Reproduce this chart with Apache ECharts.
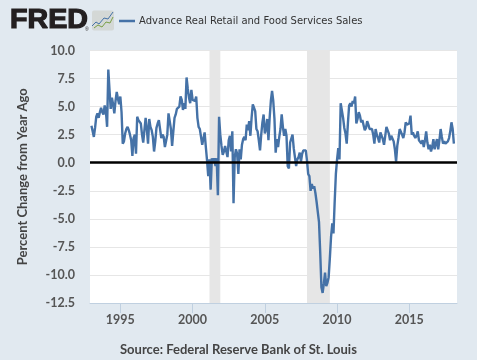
<!DOCTYPE html>
<html>
<head>
<meta charset="utf-8">
<title>FRED</title>
<style>
html, body { margin: 0; padding: 0; background: #e1e9f0; }
#main { width: 477px; height: 360px; }
</style>
<script src="https://cdn.jsdelivr.net/npm/echarts@6/dist/echarts.min.js"></script>
</head>
<body>
<div id="main"></div>
<script>
var seriesName = 'Advance Real Retail and Food Services Sales';
var yAxisName = 'Percent Change from Year Ago';
var sourceText = 'Source: Federal Reserve Bank of St. Louis';
var xTickYears = [1995, 2000, 2005, 2010, 2015];
var recessions = [[2001.17, 2001.92], [2007.92, 2009.5]];

// monthly values, about a year per row, first one is Jan 1993
var v1993 = [3.3, 2.8, 2.3, 3.1, 4.1, 4.4, 4.0, 4.5, 4.9, 4.5, 4.3];
var v1994 = [5.1, 4.6, 3.2, 8.3, 6.5, 4.8, 5.8, 5.2, 4.4, 5.5, 6.3, 5.7];
var v1995 = [5.2, 5.9, 4.5, 1.7, 1.9, 2.6, 3.0, 3.2, 2.9, 2.5, 2.0, 0.6];
var v1996 = [2.2, 2.5, 0.8, 4.1, 3.8, 3.7, 3.5, 2.5, 1.8, 2.9, 4.0, 3.0];
var v1997 = [1.7, 3.9, 3.2, 2.9, 2.3, 1.0, 1.9, 3.1, 3.5, 3.8, 3.0, 2.2];
var v1998 = [2.5, 2.3, 1.4, 1.5, 2.5, 4.4, 4.5, 3.0, 1.5, 2.8, 4.0, 4.3];
var v1999 = [4.8, 4.9, 5.0, 5.9, 5.6, 4.7, 5.3, 4.8, 7.6, 6.6, 5.8, 5.3];
var v2000 = [6.5, 5.6, 5.7, 5.5, 5.9, 4.0, 3.2, 3.0, 2.3, 1.6, 1.7, 2.7];
var v2001 = [1.4, 0.2, -1.2, 0.3, -2.4, 0.4, 0.0, 0.4, -0.3, 0.4, -2.9, 4.1];
var v2002 = [2.5, 1.5, 0.7, 1.0, 1.5, 1.0, 0.5, 2.0, 2.4, 1.0, 2.8, -3.6];
var v2003 = [0.5, 1.2, 0.8, -1.0, 1.2, 0.3, 1.6, 2.1, 2.3, 2.0, 3.4, 2.9];
var v2004 = [3.7, 2.4, 4.0, 5.2, 4.9, 4.6, 3.0, 2.8, 2.0, 1.1, 2.5, 3.6];
var v2005 = [4.3, 2.6, 3.0, 3.9, 2.0, 4.0, 5.5, 6.4, 5.5, 3.9, 0.9, 2.1];
var v2006 = [1.4, 2.3, 3.0, 4.3, 3.2, 2.4, 3.0, 2.4, -0.3, -0.5, 1.8, 1.9];
var v2007 = [2.5, 1.3, 0.5, -0.3, 0.3, 0.5, 0.9, 0.1, 0.8, 1.1, 1.2, 1.1];
var v2008 = [0.2, -1.0, -1.2, -2.5, -1.9, -2.3, -2.1, -2.7, -3.5, -4.4, -5.3, -8.0];
var v2009 = [-11.1, -11.6, -10.8, -9.8, -11.0, -10.7, -10.2, -8.5, -6.6, -5.4, -6.3, -3.5];
var v2010 = [-1.0, 0.3, 1.3, 0.3, 5.3, 5.4, 4.0, 3.1, 2.6, 1.7, 3.5, 5.1];
var v2011 = [5.3, 5.0, 5.5, 5.3, 5.9, 3.5, 3.9, 4.5, 4.2, 3.6, 3.8, 3.7];
var v2012 = [2.9, 3.1, 3.7, 3.4, 3.0, 2.9, 3.0, 2.5, 1.7, 3.0, 2.5, 2.2];
var v2013 = [1.8, 2.7, 2.6, 2.1, 1.6, 2.4, 3.2, 3.3, 2.6, 2.0, 2.4, 2.5];
var v2014 = [1.9, 1.2, 0.1, 1.5, 2.2, 3.0, 2.9, 2.5, 2.2, 2.7, 3.6, 3.4];
var v2015 = [3.3, 3.5, 4.2, 2.5, 2.7, 2.4, 2.2, 2.4, 2.8, 2.0, 2.1, 1.7];
var v2016 = [2.0, 1.4, 2.0, 2.8, 1.8, 1.2, 1.6, 1.0, 1.4, 2.1, 1.2, 1.7];
var v2017 = [2.1, 1.2, 2.0, 3.0, 2.3, 1.7, 1.9, 1.7, 1.8, 1.9, 2.2, 2.8];
var v2018 = [3.6, 3.0, 1.7];

var allValues = [].concat(v1993, v1994, v1995, v1996, v1997, v1998, v1999, v2000, v2001, v2002, v2003, v2004, v2005,
	v2006, v2007, v2008, v2009, v2010, v2011, v2012, v2013, v2014, v2015, v2016, v2017, v2018);

var points = [];
for (var i = 0; i < allValues.length; i++) {
	points.push([1993 + i / 12, allValues[i]]);
}

var myChart = echarts.init(document.getElementById('main'), null, { renderer: 'canvas' });

var option = {
	animation: false,
	backgroundColor: '#e1e9f0',
	grid: { left: 90, right: 20, top: 50.5, bottom: 57, backgroundColor: '#fff', show: true, borderWidth: 0 },
	legend: {
		left: 114,
		top: 11,
		icon: 'rect',
		itemWidth: 16,
		itemHeight: 2.5,
		itemGap: 0,
		data: [seriesName],
		textStyle: { color: '#333', fontFamily: 'DejaVu Sans', fontSize: 10, padding: [0, 0, 0, -1] }
	},
	xAxis: {
		type: 'value',
		min: 1992.9,
		max: 2018.3,
		axisLine: { onZero: false, lineStyle: { color: '#c0d0e0', width: 1 } },
		axisTick: { show: true, length: 10, customValues: xTickYears, lineStyle: { color: '#c0d0e0' } },
		splitLine: { show: false },
		axisLabel: {
			customValues: xTickYears,
			formatter: function(v) { return '' + v; },
			color: '#555',
			fontFamily: 'Lato',
			fontWeight: 'bold',
			fontSize: 12.5,
			margin: 10
		}
	},
	yAxis: {
		type: 'value',
		min: -12.5,
		max: 10,
		interval: 2.5,
		name: yAxisName,
		nameLocation: 'middle',
		nameRotate: 90,
		nameGap: 61,
		nameTextStyle: { color: '#444', fontFamily: 'Lato', fontWeight: 'bold', fontSize: 13 },
		axisLine: { show: false },
		axisTick: { show: false },
		splitLine: { lineStyle: { color: '#e6e6e6', width: 1 } },
		axisLabel: {
			formatter: function(v) { return v.toFixed(1); },
			color: '#555',
			fontFamily: 'Lato',
			fontWeight: 'bold',
			fontSize: 12.5,
			margin: 15
		}
	},
	series: [{
		name: seriesName,
		type: 'line',
		data: points,
		showSymbol: false,
		symbol: 'none',
		lineStyle: { color: '#4572a7', width: 2.4 },
		itemStyle: { color: '#4572a7' },
		markArea: {
			silent: true,
			itemStyle: { color: '#e6e6e6' },
			data: recessions.map(function(r) { return [{ xAxis: r[0] }, { xAxis: r[1] }]; })
		},
		markLine: {
			silent: true,
			symbol: 'none',
			label: { show: false },
			lineStyle: { color: '#000', width: 2.5, type: 'solid' },
			data: [{ yAxis: 0 }]
		}
	}],
	graphic: [
		{ type: 'text', x: 10, y: 7, scaleX: 1.06, style: { text: 'FRED', fill: '#231f20', stroke: '#231f20', lineWidth: 1.2, font: 'bold 27px "Liberation Sans"' } },
		{ type: 'text', left: 85, top: 27, style: { text: '®', fill: '#231f20', font: '5px "Liberation Sans"' } },
		{ type: 'rect', shape: { x: 92, y: 10.5, width: 22, height: 20, r: 2 }, style: { fill: '#d4d8d6' } },
		{ type: 'polyline', shape: { points: [[92, 26], [96, 22], [99, 24], [104, 18], [108, 19], [113, 12]] }, style: { stroke: '#4572a7', fill: null, lineWidth: 1 } },
		{ type: 'polyline', shape: { points: [[94, 28], [98, 25], [102, 27], [106, 22], [110, 23], [113, 17]] }, style: { stroke: '#7a9f45', fill: null, lineWidth: 1 } },
		{ type: 'text', left: 120, top: 343, style: { text: sourceText, fill: '#444', font: 'bold 13px Lato' } }
	]
};

myChart.setOption(option);
</script>
</body>
</html>
